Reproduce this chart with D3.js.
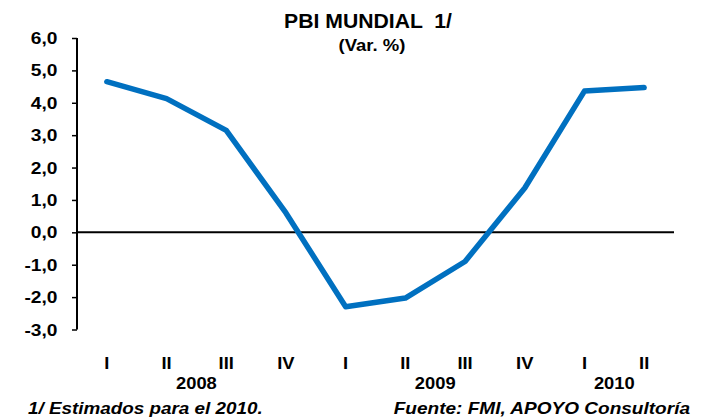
<!DOCTYPE html>
<html>
<head>
<meta charset="utf-8">
<script src="https://cdn.jsdelivr.net/npm/d3@7"></script>
<style>
  body { margin: 0; background: #fff; }
  text { font-family: "Liberation Sans", Arial, sans-serif; font-weight: bold; fill: #000; }
</style>
</head>
<body>
<svg width="711" height="420"></svg>
<script>
'use strict';

// the data
var quarters = ['I', 'II', 'III', 'IV', 'I', 'II', 'III', 'IV', 'I', 'II'];
var quarterYear = [2008, 2008, 2008, 2008, 2009, 2009, 2009, 2009, 2010, 2010];
var years = [2008, 2009, 2010];
var pbi = [4.65, 4.13, 3.15, 0.6, -2.3, -2.03, -0.9, 1.37, 4.36, 4.47];
var yTicks = [6, 5, 4, 3, 2, 1, 0, -1, -2, -3];

var svg = d3.select('svg');

// put a text at x,y, stretched sideways (text in the picture is wide)
function label(x, y, str, size, anchor, italic, sx) {
  return svg.append('text')
    .attr('transform', 'translate(' + x + ',' + y + ') scale(' + (sx || 1.1) + ',1)')
    .attr('text-anchor', anchor || 'middle')
    .style('font-size', size + 'px')
    .style('font-style', italic ? 'italic' : 'normal')
    .style('white-space', 'pre')
    .text(str);
}

function fmt(v){ return d3.format('.1f')(v).replace('.', ',').replace('−', '-'); }

var x = d3.scaleBand().domain(d3.range(pbi.length)).range([77, 674]);
var y = d3.scaleLinear().domain([-3, 6]).range([329.5, 38]);

// title
label(368, 28, 'PBI MUNDIAL  1/', 20, 'middle', false, 1.06);
label(372, 51, '(Var. %)', 17, 'middle', false, 1.09);

// y axis ticks
var yAxis = d3.axisLeft(y).tickValues(yTicks).tickSize(5).tickFormat('');
var gy = svg.append('g').attr('transform', 'translate(77,0)').call(yAxis);
gy.select('.domain').remove();
gy.selectAll('.tick line').attr('stroke', '#000').attr('stroke-width', 1.5);
yTicks.forEach(function(v){
  label(57.5, y(v) + 6, fmt(v), 17, 'end', false, 1.13);
});
svg.append('line')
  .attr('x1', 77).attr('x2', 77)
  .attr('y1', y(6)).attr('y2', y(-3))
  .attr('stroke', '#000').attr('stroke-width', 2);

// zero line
svg.append('line')
  .attr('x1', 77).attr('x2', 674)
  .attr('y1', y(0)).attr('y2', y(0))
  .attr('stroke', '#000').attr('stroke-width', 2);

// the series
var line = d3.line()
  .x(function(d, i){ return x(i) + x.bandwidth() / 2; })
  .y(function(d){ return y(d); });
svg.append('path')
  .datum(pbi)
  .attr('d', line)
  .attr('fill', 'none')
  .attr('stroke', '#0070C0')
  .attr('stroke-width', 5.5)
  .attr('stroke-linecap', 'round')
  .attr('stroke-linejoin', 'round');

// quarter labels
quarters.forEach(function(q, i){
  label(x(i) + x.bandwidth() / 2, 369, q, 17, 'middle', false, 1.08);
});

// year labels, centred under their quarters
years.forEach(function(yr){
  var idx = d3.range(pbi.length).filter(function(i){ return quarterYear[i] === yr; });
  var cx = d3.mean(idx, function(i){ return x(i) + x.bandwidth() / 2; });
  label(cx, 389, String(yr), 17, 'middle', false, 1.08);
});

// footnotes
label(28, 414, '1/ Estimados para el 2010.', 17, 'start', true, 1.11);
label(690, 414, 'Fuente: FMI, APOYO Consultoría', 17, 'end', true, 1.12);
</script>
</body>
</html>
